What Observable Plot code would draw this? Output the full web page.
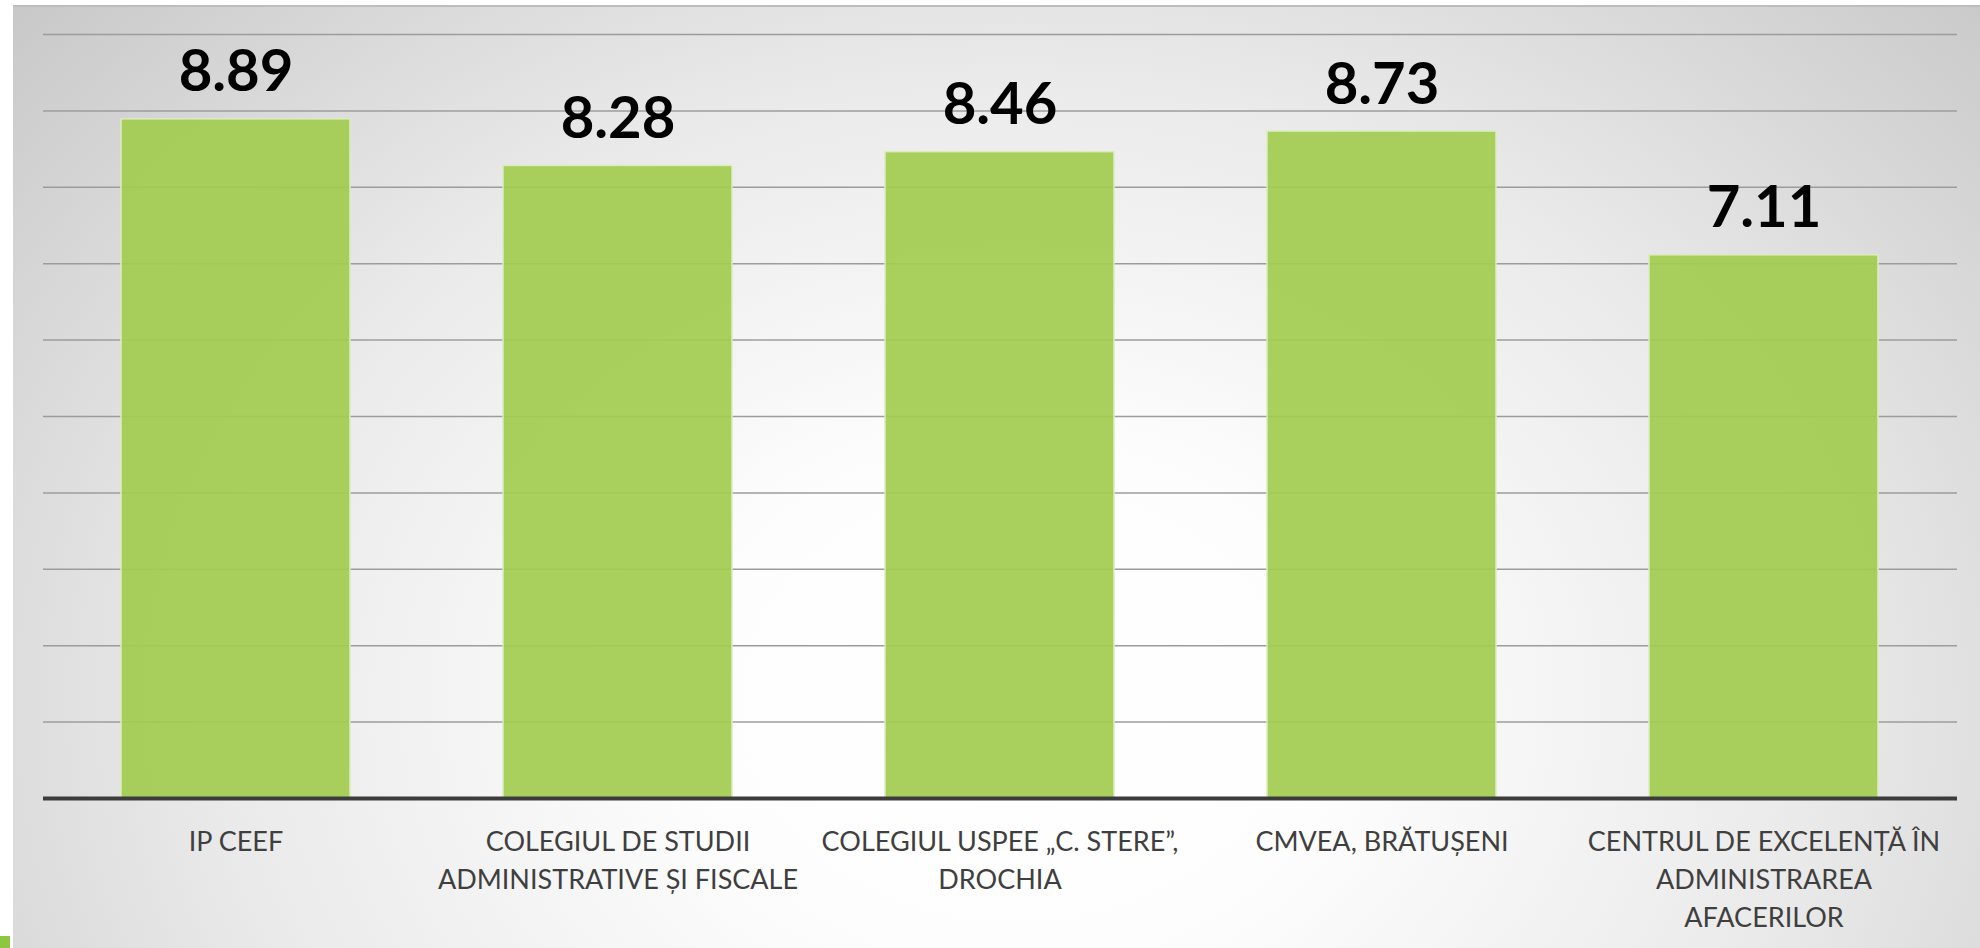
<!DOCTYPE html>
<html>
<head>
<meta charset="utf-8">
<script src="https://cdn.jsdelivr.net/npm/d3@7"></script>
<script src="https://cdn.jsdelivr.net/npm/@observablehq/plot@0.6"></script>
<style>
  html, body { margin: 0; padding: 0; background: #ffffff; width: 1980px; height: 948px; overflow: hidden; }
  #bg {
    position: absolute; left: 13px; top: 5px; width: 1967px; height: 943px;
    background: radial-gradient(ellipse 70% 115% at 51% 74%, #ffffff 0%, #fdfdfd 24%, #eaeaea 58%, #c6c6c6 100%);
    border-top: 2px solid #bdbdbd;
    box-sizing: border-box;
  }
  #mark { position: absolute; left: 0; top: 936px; width: 10px; height: 12px; background: #8dc63f; }
  #chart { position: absolute; left: 0; top: 0; }
</style>
</head>
<body>
<div id="bg"></div>
<div id="mark"></div>
<div id="chart"></div>
<script>
const categories = [
  "IP CEEF",
  "COLEGIUL DE STUDII ADMINISTRATIVE ȘI FISCALE",
  "COLEGIUL USPEE „C. STERE”, DROCHIA",
  "CMVEA, BRĂTUȘENI",
  "CENTRUL DE EXCELENȚĂ ÎN ADMINISTRAREA AFACERILOR"
];
const values = [8.89, 8.28, 8.46, 8.73, 7.11];
const valueLabels = ["8.89", "8.28", "8.46", "8.73", "7.11"];
const tickLabels = [
  "IP CEEF",
  "COLEGIUL DE STUDII\nADMINISTRATIVE ȘI FISCALE",
  "COLEGIUL USPEE „C. STERE”,\nDROCHIA",
  "CMVEA, BRĂTUȘENI",
  "CENTRUL DE EXCELENȚĂ ÎN\nADMINISTRAREA\nAFACERILOR"
];
const gridValues = [1, 2, 3, 4, 5, 6, 7, 8, 9, 10];

const data = categories.map((c, i) => ({category: c, value: values[i], label: valueLabels[i]}));

const chart = Plot.plot({
  width: 1980,
  height: 948,
  marginLeft: 43,
  marginRight: 23,
  marginTop: 34,
  marginBottom: 150,
  style: {background: "transparent", fontFamily: "Lato, 'Open Sans', sans-serif", overflow: "visible"},
  x: {domain: categories, paddingInner: 0.4, paddingOuter: 0.2, axis: null},
  y: {domain: [0, 10], axis: null},
  marks: [
    Plot.ruleY(gridValues, {stroke: "#9c9c9c", strokeWidth: 1.5}),
    Plot.barY(data, {x: "category", y: "value", fill: "#a2cc50", fillOpacity: 0.93, stroke: "#dcedc2", strokeWidth: 1.5}),
    Plot.ruleY([0], {stroke: "#3c3c3c", strokeWidth: 4}),
    Plot.text(data, {x: "category", y: "value", text: "label", dy: -28, lineAnchor: "bottom", fontSize: 58, fontWeight: "bold", fill: "#000000"}),
    Plot.axisX({
      tickSize: 0,
      tickPadding: 25,
      fontSize: 27,
      lineHeight: 1.41,
      color: "#3f3f3f",
      label: null,
      tickFormat: d => tickLabels[categories.indexOf(d)]
    })
  ]
});
document.getElementById("chart").appendChild(chart);
</script>
</body>
</html>
